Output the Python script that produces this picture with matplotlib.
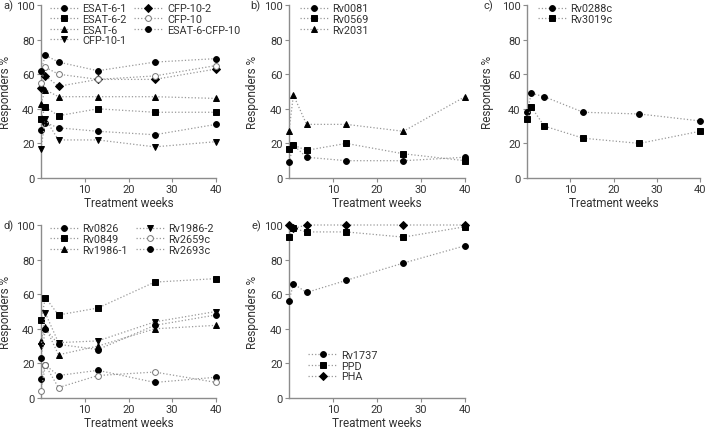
import numpy as np
import matplotlib
matplotlib.use("Agg")
import matplotlib.pyplot as plt

plt.rcParams['font.family'] = ['Roboto', 'DejaVu Sans']

# weeks of treatment (x axis, same for every panel)
weeks = [0, 1, 4, 13, 26, 40]

# a) ESAT-6 / CFP-10 peptides
esat6_1 = [28, 32, 29, 27, 25, 31]
esat6_2 = [34, 41, 36, 40, 38, 38]
esat6 = [43, 51, 47, 47, 47, 46]
cfp10_1 = [17, 34, 22, 22, 18, 21]
cfp10_2 = [52, 59, 53, 57, 57, 63]
cfp10 = [55, 64, 60, 57, 59, 65]
esat6_cfp10 = [62, 71, 67, 62, 67, 69]

# b)
rv0081 = [9, 19, 12, 10, 10, 12]
rv0569 = [17, 19, 16, 20, 14, 10]
rv2031 = [27, 48, 31, 31, 27, 47]

# c)
rv0288c = [38, 49, 47, 38, 37, 33]
rv3019c = [34, 41, 30, 23, 20, 27]

# d)
rv0826 = [11, 19, 13, 16, 9, 12]
rv0849 = [45, 58, 48, 52, 67, 69]
rv1986_1 = [33, 41, 25, 30, 40, 42]
rv1986_2 = [30, 49, 32, 33, 44, 50]
rv2659c = [4, 19, 6, 13, 15, 9]
rv2693c = [23, 40, 31, 28, 42, 48]

# e)
rv1737 = [56, 66, 61, 68, 78, 88]
ppd = [93, 98, 96, 96, 93, 99]
pha = [100, 98, 100, 100, 100, 100]

txt = '#333333'
grey = '#8c8c8c'

W, H = 713, 431
fig = plt.figure(figsize=(W / 100, H / 100), dpi=100)

def box(x0, x1, ytop, ybot):
    return [x0 / W, 1 - ybot / H, (x1 - x0) / W, (ybot - ytop) / H]

def panel(rect, letter, lx, ylx):
    ax = fig.add_axes(rect)
    ax.set_xlim(0, 40)
    ax.set_ylim(0, 100)
    ax.set_xticks([10, 20, 30, 40])
    ax.set_yticks([0, 20, 40, 60, 80, 100])
    for s in ['top', 'right']:
        ax.spines[s].set_visible(False)
    for s in ['left', 'bottom']:
        ax.spines[s].set_color(grey)
        ax.spines[s].set_linewidth(1.0)
    ax.tick_params(colors=grey, labelcolor=txt, labelsize=8, length=3, width=0.8, pad=1.5)
    ax.set_xlabel('Treatment weeks', color=txt, fontsize=8.5, labelpad=1)
    ax.set_ylabel('Responders %', color=txt, fontsize=8.5)
    ax.yaxis.set_label_coords(ylx, 0.5)
    # panel letter, level with the 100 tick
    top = rect[1] + rect[3]
    fig.text(lx / W, top, letter, color=txt, fontsize=8, ha='left', va='center')
    return ax

def series(ax, y, marker, label, open_=False):
    ax.plot(weeks, y, linestyle=':', color='#999999', linewidth=0.9,
            marker=marker, markersize=4.2 if marker != 'D' else 3.6,
            markerfacecolor='white' if open_ else 'black',
            markeredgecolor='#777777' if open_ else 'black', markeredgewidth=0.7,
            label=label, clip_on=False, zorder=3)

def legend(ax, ncol=1, **kw):
    ax.legend(ncol=ncol, frameon=False, fontsize=7.8, handlelength=2.6,
              handletextpad=0.4, labelspacing=0.05, columnspacing=0.7,
              borderpad=0.0, labelcolor=txt, **kw)

# row 1
ax = panel(box(41, 216, 6, 179), 'a)', 3, -0.165)
series(ax, esat6_1, 'o', 'ESAT-6-1')
series(ax, esat6_2, 's', 'ESAT-6-2')
series(ax, esat6, '^', 'ESAT-6')
series(ax, cfp10_1, 'v', 'CFP-10-1')
series(ax, cfp10_2, 'D', 'CFP-10-2')
series(ax, cfp10, 'o', 'CFP-10', open_=True)
series(ax, esat6_cfp10, 'o', 'ESAT-6-CFP-10')
legend(ax, ncol=2, loc='upper left', bbox_to_anchor=(0.02, 1.04))

ax = panel(box(289, 465, 6, 179), 'b)', 250, -0.17)
series(ax, rv0081, 'o', 'Rv0081')
series(ax, rv0569, 's', 'Rv0569')
series(ax, rv2031, '^', 'Rv2031')
legend(ax, loc='upper left', bbox_to_anchor=(0.03, 1.04))

ax = panel(box(527, 700, 6, 179), 'c)', 484, -0.19)
series(ax, rv0288c, 'o', 'Rv0288c')
series(ax, rv3019c, 's', 'Rv3019c')
legend(ax, loc='upper left', bbox_to_anchor=(0.03, 1.04))

# row 2
ax = panel(box(41, 216, 226, 399), 'd)', 3, -0.165)
series(ax, rv0826, 'o', 'Rv0826')
series(ax, rv0849, 's', 'Rv0849')
series(ax, rv1986_1, '^', 'Rv1986-1')
series(ax, rv1986_2, 'v', 'Rv1986-2')
series(ax, rv2659c, 'o', 'Rv2659c', open_=True)
series(ax, rv2693c, 'o', 'Rv2693c')
legend(ax, ncol=2, loc='upper left', bbox_to_anchor=(0.02, 1.04))

ax = panel(box(289, 465, 226, 399), 'e)', 252, -0.17)
series(ax, rv1737, 'o', 'Rv1737')
series(ax, ppd, 's', 'PPD')
series(ax, pha, 'D', 'PHA')
legend(ax, loc='lower left', bbox_to_anchor=(0.08, 0.065))

fig.savefig('out.png', dpi=100)
